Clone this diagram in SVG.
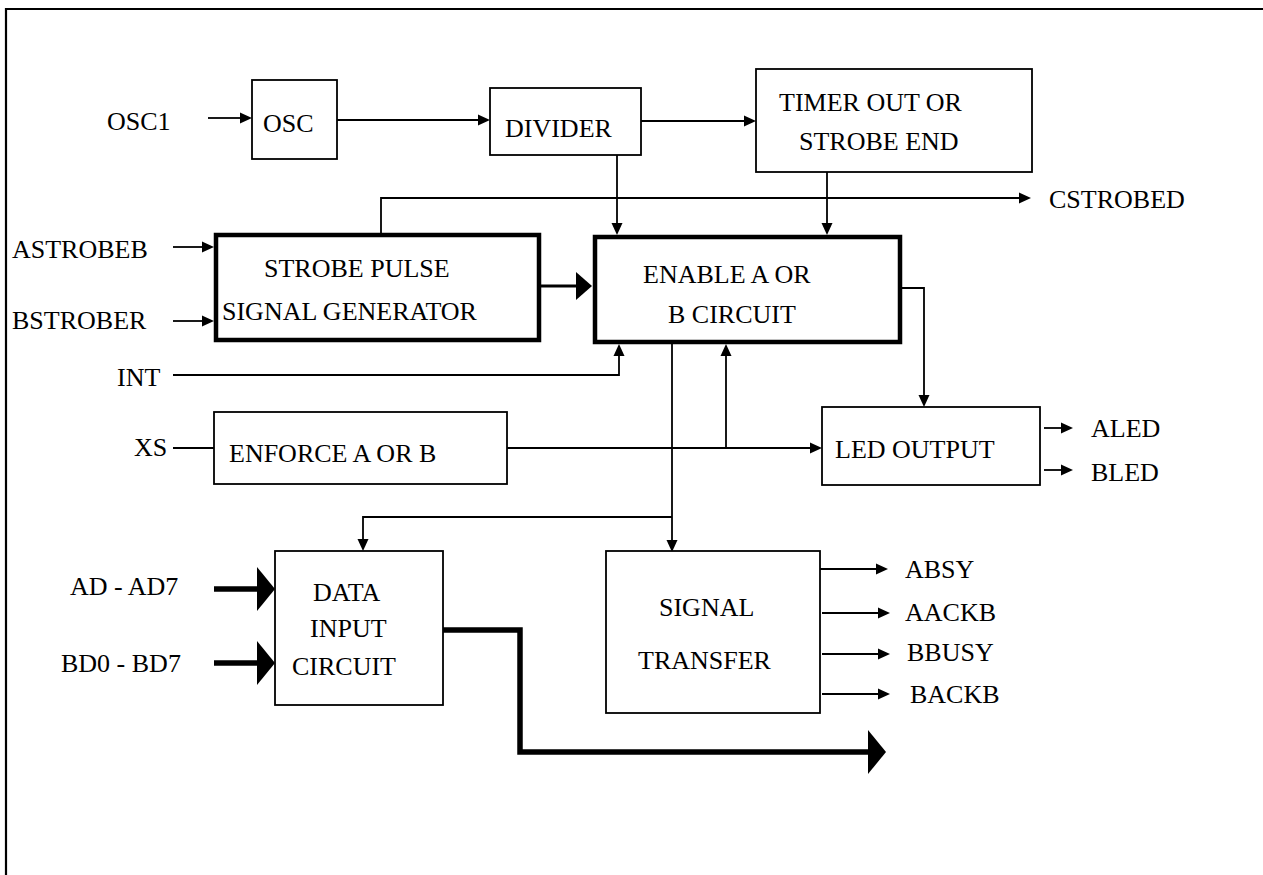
<svg xmlns="http://www.w3.org/2000/svg" width="1263" height="875" viewBox="0 0 1263 875">
<style>
text{font-family:"Liberation Serif","Times New Roman","DejaVu Serif",serif;font-size:26px;fill:#000}
.box{fill:#fff;stroke:#000;stroke-width:1.8}
.tbox{fill:#fff;stroke:#000;stroke-width:4.5}
.c{fill:none;stroke:#000;stroke-width:1.8}
.bus{fill:none;stroke:#000;stroke-width:5.5;stroke-linejoin:miter}
</style>
<defs>
<marker id="a" markerUnits="userSpaceOnUse" viewBox="0 0 12 12" markerWidth="12" markerHeight="12" refX="0" refY="6" orient="auto"><path d="M0,0.5 L12,6 L0,11.5z" fill="#000"/></marker>
<marker id="m" markerUnits="userSpaceOnUse" viewBox="0 0 16 28" markerWidth="16" markerHeight="28" refX="0" refY="14" orient="auto"><path d="M0,0 L16,14 L0,28z" fill="#000"/></marker>
<marker id="b" markerUnits="userSpaceOnUse" viewBox="0 0 18 44" markerWidth="18" markerHeight="44" refX="0" refY="22" orient="auto"><path d="M0,0 L18,22 L0,44z" fill="#000"/></marker>
</defs>
<rect width="1263" height="875" fill="#fff"/>
<path d="M6,875 V9 H1263" fill="none" stroke="#000" stroke-width="2.2"/>

<g id="connectors">
<path class="c" d="M208,118 H240" marker-end="url(#a)"/>
<path class="c" d="M337,120 H478" marker-end="url(#a)"/>
<path class="c" d="M641,121 H744" marker-end="url(#a)"/>
<path class="c" d="M617,155 V223" marker-end="url(#a)"/>
<path class="c" d="M827,172 V223" marker-end="url(#a)"/>
<path class="c" d="M381,233 V198 H1019" marker-end="url(#a)"/>
<path class="c" d="M173,247 H202" marker-end="url(#a)"/>
<path class="c" d="M173,321 H202" marker-end="url(#a)"/>
<path d="M541,286 H576" fill="none" stroke="#000" stroke-width="3" marker-end="url(#m)"/>
<path class="c" d="M173,375 H619 V356" marker-end="url(#a)"/>
<path class="c" d="M173,448 H214"/>
<path class="c" d="M507,448 H810" marker-end="url(#a)"/>
<path class="c" d="M726,448 V356" marker-end="url(#a)"/>
<path class="c" d="M672,344 V540" marker-end="url(#a)"/>
<path class="c" d="M672,517 H363 V539" marker-end="url(#a)"/>
<path class="c" d="M900,288 H924 V395" marker-end="url(#a)"/>
<path class="c" d="M1044,428 H1061" marker-end="url(#a)"/>
<path class="c" d="M1044,470 H1061" marker-end="url(#a)"/>
<path class="bus" d="M214,589 H257" marker-end="url(#b)"/>
<path class="bus" d="M214,663 H257" marker-end="url(#b)"/>
<path class="bus" d="M443,630 H520 V752 H868" marker-end="url(#b)"/>
<path class="c" d="M820,569 H876" marker-end="url(#a)"/>
<path class="c" d="M822,613 H878" marker-end="url(#a)"/>
<path class="c" d="M822,654 H878" marker-end="url(#a)"/>
<path class="c" d="M822,694 H878" marker-end="url(#a)"/>
</g>

<g id="labels">
<text x="107" y="130">OSC1</text>
<text x="12" y="258">ASTROBEB</text>
<text x="12" y="329">BSTROBER</text>
<text x="117" y="386">INT</text>
<text x="134" y="456">XS</text>
<text x="70" y="595">AD - AD7</text>
<text x="61" y="672">BD0 - BD7</text>
<text x="1049" y="208">CSTROBED</text>
<text x="1091" y="437">ALED</text>
<text x="1091" y="481">BLED</text>
<text x="905" y="578">ABSY</text>
<text x="905" y="621">AACKB</text>
<text x="907" y="661">BBUSY</text>
<text x="910" y="703">BACKB</text>
</g>

<g id="osc">
<rect class="box" x="252" y="80" width="85" height="79"/>
<text x="263" y="132">OSC</text>
</g>
<g id="divider">
<rect class="box" x="490" y="88" width="151" height="67"/>
<text x="505" y="137">DIVIDER</text>
</g>
<g id="timer">
<rect class="box" x="756" y="69" width="276" height="103"/>
<text x="779" y="111">TIMER OUT OR</text>
<text x="799" y="150">STROBE END</text>
</g>
<g id="strobe">
<rect class="tbox" x="216" y="235" width="323" height="105"/>
<text x="264" y="277">STROBE PULSE</text>
<text x="222" y="320">SIGNAL GENERATOR</text>
</g>
<g id="enable">
<rect class="tbox" x="595" y="237" width="305" height="105"/>
<text x="643" y="283">ENABLE A OR</text>
<text x="668" y="323">B CIRCUIT</text>
</g>
<g id="enforce">
<rect class="box" x="214" y="412" width="293" height="72"/>
<text x="229" y="462">ENFORCE A OR B</text>
</g>
<g id="led">
<rect class="box" x="822" y="407" width="218" height="78"/>
<text x="835" y="458">LED OUTPUT</text>
</g>
<g id="data">
<rect class="box" x="275" y="551" width="168" height="154"/>
<text x="313" y="601">DATA</text>
<text x="310" y="637">INPUT</text>
<text x="292" y="675">CIRCUIT</text>
</g>
<g id="signal">
<rect class="box" x="606" y="551" width="214" height="162"/>
<text x="659" y="616">SIGNAL</text>
<text x="638" y="669">TRANSFER</text>
</g>
</svg>
